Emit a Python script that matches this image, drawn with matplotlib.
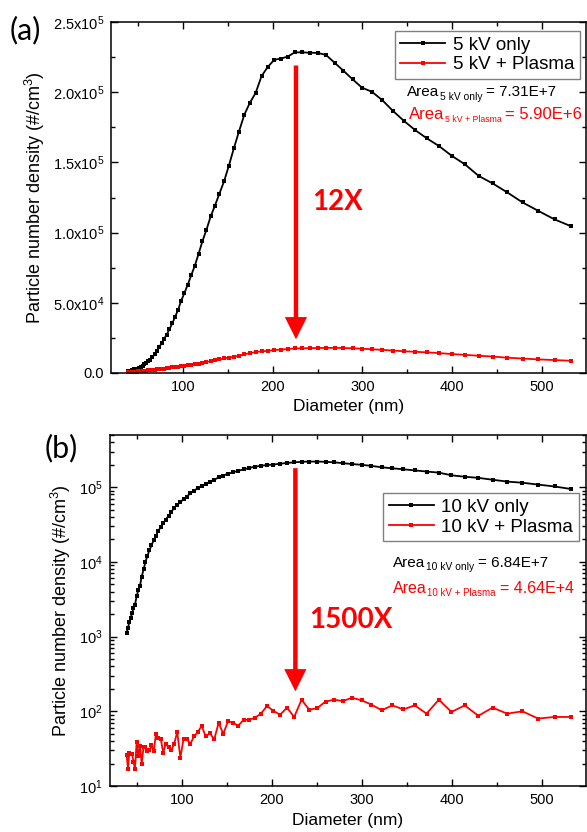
import matplotlib
matplotlib.use('Agg')
import matplotlib.pyplot as plt
from matplotlib.ticker import MultipleLocator, LogLocator, NullFormatter

plt.rcParams['font.family'] = ['Liberation Sans', 'DejaVu Sans']
plt.rcParams['mathtext.fontset'] = 'custom'
plt.rcParams['mathtext.rm'] = 'Liberation Sans'
plt.rcParams['mathtext.it'] = 'Liberation Sans:italic'
plt.rcParams['mathtext.bf'] = 'Liberation Sans:bold'
plt.rcParams['mathtext.default'] = 'regular'

# SMPS bin diameters (nm)
diameter = [38.5, 40.0, 41.4, 42.9, 44.5, 46.1, 47.8, 49.6, 51.4, 53.3,
            55.2, 57.3, 59.4, 61.5, 63.8, 66.1, 68.5, 71.0, 73.7, 76.4,
            79.1, 82.0, 85.1, 88.2, 91.4, 94.7, 98.2, 101.8, 105.5, 109.4,
            113.4, 117.6, 121.9, 126.3, 131.0, 135.8, 140.7, 145.9, 151.2, 156.8,
            162.5, 168.5, 174.7, 181.1, 187.7, 194.6, 201.7, 209.1, 216.7, 224.7,
            232.9, 241.4, 250.3, 259.5, 269.0, 278.8, 289.0, 299.6, 310.6, 322.0,
            333.8, 346.0, 358.7, 371.8, 385.4, 399.5, 414.2, 429.4, 445.1, 461.4,
            478.3, 495.8, 514.0, 532.8]

# (a) 5 kV
only_5kv = [1400, 1500, 1700, 1900, 2200, 2500, 2800, 3200, 3800, 4500,
            5300, 6200, 7200, 8300, 9600, 11200, 13200, 15500, 18300, 21300,
            24200, 27400, 31200, 35300, 40000, 45000, 51500, 57000, 63000, 69700,
            76500, 85000, 94000, 102000, 111500, 119300, 127700, 136500, 147500, 160000,
            172000, 184000, 192500, 199500, 211500, 218000, 223000, 224000, 225300, 228400,
            228400, 228100, 228000, 226500, 221000, 215300, 209200, 203200, 200300, 194400,
            186800, 179700, 173000, 167100, 161600, 154700, 148600, 140400, 135000, 128600,
            121500, 115500, 109400, 104400]
plasma_5kv = [700, 750, 800, 860, 920, 990, 1060, 1140, 1230, 1330,
              1440, 1560, 1690, 1830, 1990, 2160, 2340, 2530, 2740, 2960,
              3190, 3430, 3690, 3960, 4240, 4530, 4830, 5150, 5500, 5880,
              6300, 6750, 7250, 7800, 8400, 9000, 9700, 10400, 11000, 11500,
              12300, 13300, 14200, 14900, 15400, 15800, 16300, 16700, 17100, 17500,
              17600, 17700, 17800, 17900, 17900, 17800, 17600, 17300, 16900, 16500,
              16000, 15500, 15100, 14700, 14200, 13500, 12900, 12300, 11700, 10900,
              10300, 9700, 9200, 8700]

# (b) 10 kV
only_10kv = [1120, 1320, 1550, 1780, 2040, 2400, 2690, 3470, 4170, 4790,
             6310, 7940, 10000, 12000, 14300, 16600, 19500, 22100, 25900, 29500,
             33100, 36700, 41700, 46800, 53100, 58200, 63100, 69200, 75000, 83200,
             90200, 96600, 103500, 110700, 118900, 125900, 134900, 143200, 151400, 158500,
             166000, 173000, 181100, 188400, 193600, 198200, 201000, 206500, 211300, 215300,
             218800, 220300, 220300, 218800, 215300, 209900, 204200, 199500, 192800, 184900,
             179100, 173800, 167900, 162200, 156700, 144500, 138000, 133400, 125900, 118900,
             114800, 108400, 102300, 94400]
plasma_10kv = [26, 17, 28, 27, 27, 21, 17, 39, 25, 34,
               20, 33, 33, 29, 30, 35, 29, 49, 44, 43,
               28, 37, 33, 30, 37, 53, 24, 43, 42, 37,
               46, 53, 64, 46, 51, 42, 70, 50, 74, 70,
               64, 77, 77, 82, 93, 118, 101, 90, 112, 84,
               143, 105, 110, 135, 143, 137, 152, 140, 123, 103,
               120, 106, 120, 93, 143, 98, 120, 87, 112, 93,
               100, 80, 84, 84]

ylabel = 'Particle number density (#/cm$^3$)'
arrow_style = 'simple,head_length=1.6,head_width=1.6,tail_width=0.32'
W, H = 587, 832


def style_axes(ax):
    ax.tick_params(which='both', direction='in', top=True, right=True, width=1)
    ax.tick_params(which='major', length=5, labelsize=10.5, pad=5)
    ax.tick_params(which='minor', length=3)
    for s in ax.spines.values():
        s.set_linewidth(1.1)
    ax.xaxis.set_major_locator(MultipleLocator(100))
    ax.xaxis.set_minor_locator(MultipleLocator(50))
    ax.set_xlim(20, 549)


def add_legend(ax, anchor):
    leg = ax.legend(loc='upper right', bbox_to_anchor=anchor, borderaxespad=0,
                    fancybox=False, edgecolor='#808080', fontsize=13.5, handlelength=2.4,
                    handletextpad=0.4, borderpad=0.3, labelspacing=0.15, framealpha=1)
    leg.get_frame().set_linewidth(1.0)


def area_text(x, y, parts, color):
    # parts: (text, fontsize, drop in px, gap before in px); x, y in pixels from top-left
    r = fig.canvas.get_renderer()
    for s, size, dy, gap in parts:
        x += gap
        t = fig.text(x / W, 1 - (y + dy) / H, s, fontsize=size, color=color,
                     ha='left', va='baseline')
        x = t.get_window_extent(r).x1


fig = plt.figure(figsize=(5.87, 8.32), dpi=100)

# ---- panel (a)
ax1 = fig.add_axes([111/W, 1-373/H, 475/W, 351/H])
ax1.plot(diameter, only_5kv, '-s', color='black', lw=1.3, ms=2.5, mew=0, label='5 kV only')
ax1.plot(diameter, plasma_5kv, '-s', color='red', lw=1.3, ms=2.5, mew=0, label='5 kV + Plasma')
style_axes(ax1)
ax1.set_ylim(0, 2.5e5)
ax1.set_yticks([0, 5e4, 1e5, 1.5e5, 2e5, 2.5e5],
               ['0.0', '5.0x10$^4$', '1.0x10$^5$', '1.5x10$^5$', '2.0x10$^5$', '2.5x10$^5$'])
ax1.yaxis.set_minor_locator(MultipleLocator(2.5e4))
ax1.set_xlabel('Diameter (nm)', fontsize=12.5)
ax1.set_ylabel(ylabel, fontsize=13)
ax1.xaxis.set_label_coords(0.5, -0.075)
ax1.yaxis.set_label_coords(-0.135, 0.5)
add_legend(ax1, (0.987, 0.975))
ax1.annotate('', xy=(226, 24000), xytext=(226, 219000),
             arrowprops=dict(arrowstyle=arrow_style, color='red', lw=0,
                             mutation_scale=10, shrinkA=0, shrinkB=0))
ax1.text(244, 121700, '12X', color='red', fontsize=20, fontweight='bold',
         family='Lato', va='center')

# ---- panel (b)
ax2 = fig.add_axes([110/W, 1-786/H, 476/W, 351/H])
ax2.plot(diameter, only_10kv, '-s', color='black', lw=1.3, ms=2.5, mew=0, label='10 kV only')
ax2.plot(diameter, plasma_10kv, '-s', color='red', lw=1.3, ms=2.5, mew=0, label='10 kV + Plasma')
ax2.set_yscale('log')
style_axes(ax2)
ax2.set_ylim(10, 5e5)
ax2.yaxis.set_major_locator(LogLocator(base=10))
ax2.yaxis.set_minor_locator(LogLocator(base=10, subs=range(2, 10)))
ax2.yaxis.set_minor_formatter(NullFormatter())
ax2.set_xlabel('Diameter (nm)', fontsize=12.5)
ax2.set_ylabel(ylabel, fontsize=13)
ax2.xaxis.set_label_coords(0.5, -0.078)
ax2.yaxis.set_label_coords(-0.077, 0.5)
add_legend(ax2, (0.985, 0.835))
ax2.annotate('', xy=(226, 185), xytext=(226, 180000),
             arrowprops=dict(arrowstyle=arrow_style, color='red', lw=0,
                             mutation_scale=10, shrinkA=0, shrinkB=0))
ax2.text(241, 1660, '1500X', color='red', fontsize=20, fontweight='bold',
         family='Lato', va='center')

# area annotations, subscripts drawn as smaller text pieces
area_text(407, 96, [('Area', 11, 0, 0), ('5 kV only', 7.4, 3.5, 0.5),
                    ('= 7.31E+7', 11, 0, 4)], 'black')
area_text(409, 119, [('Area', 12, 0, 0), ('5 kV + Plasma', 6.3, 3, 0.5),
                     ('= 5.90E+6', 12, 0, 3)], 'red')
area_text(393, 567, [('Area', 11, 0, 0), ('10 kV only', 7.4, 3.5, 0.5),
                     ('= 6.84E+7', 11, 0, 4)], 'black')
area_text(393, 593, [('Area', 11.5, 0, 0), ('10 kV + Plasma', 7, 3.5, 0.5),
                     ('= 4.64E+4', 11.5, 0, 4)], 'red')

fig.text(10/W, 1-30/H, '(a)', fontsize=22, family='Lato', va='center')
fig.text(45/W, 1-448/H, '(b)', fontsize=22, family='Lato', va='center')

fig.savefig('out.png', dpi=100)
